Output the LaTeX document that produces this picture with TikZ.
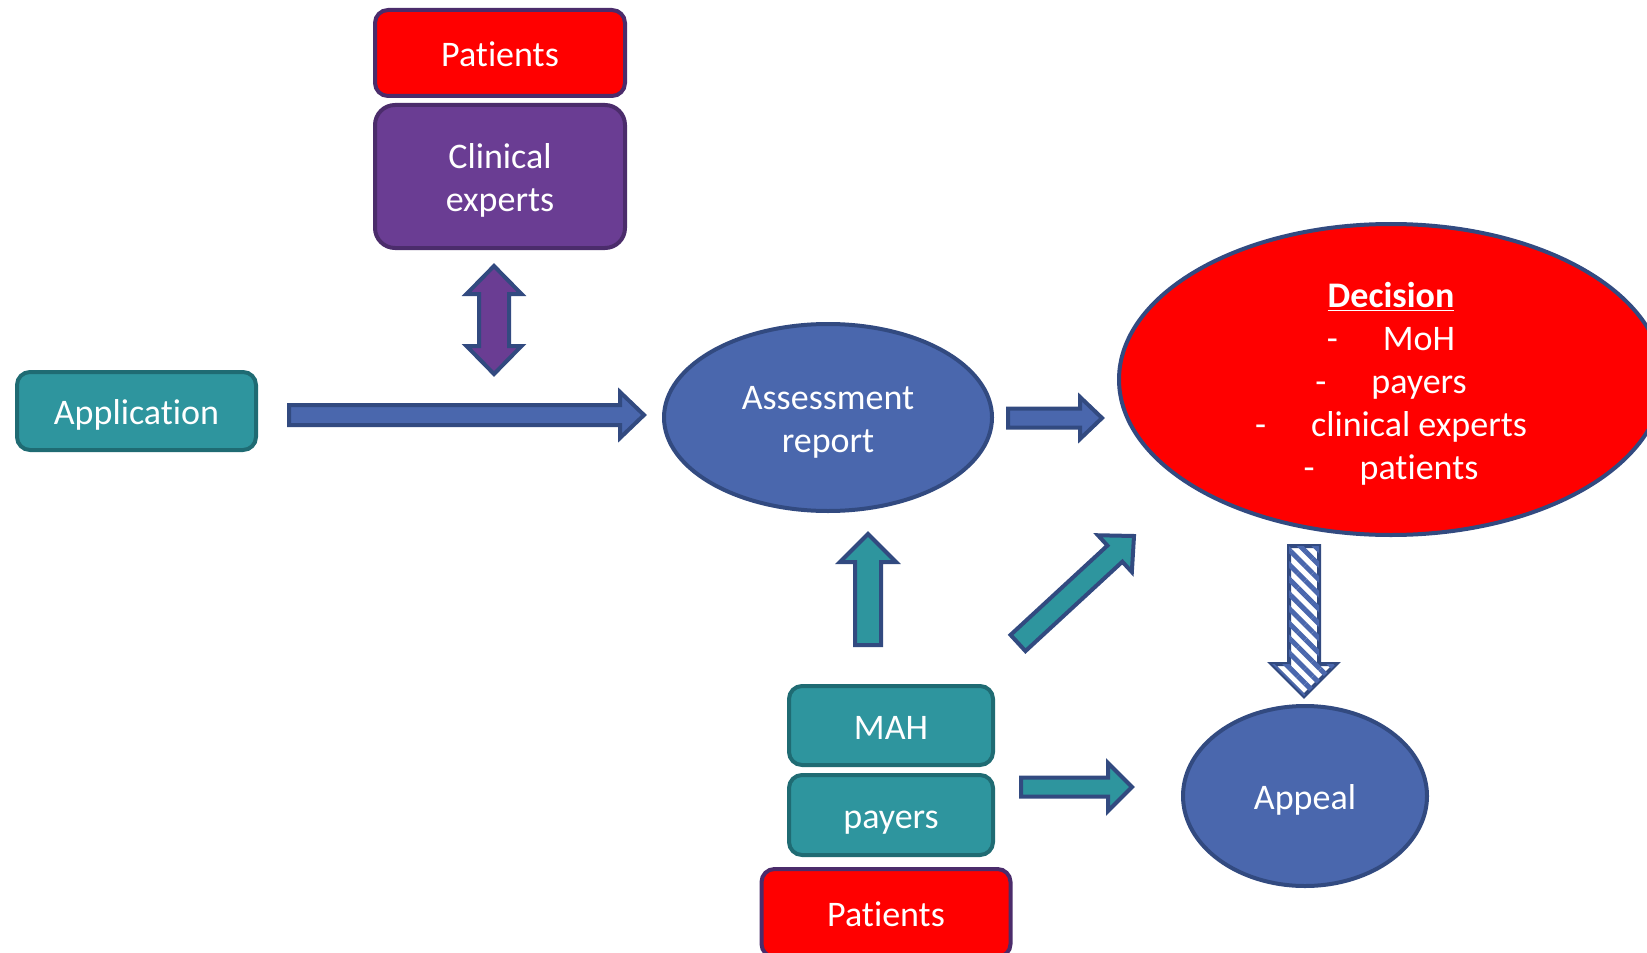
\documentclass[tikz,border=0pt]{standalone}
\usepackage{fontspec}
\setmainfont{Carlito}[Ligatures={NoCommon}]
\usetikzlibrary{shapes.geometric,calc,patterns.meta}
\definecolor{teal1}{RGB}{46,149,158}
\definecolor{tealb}{RGB}{31,107,115}
\definecolor{purp}{RGB}{106,61,147}
\definecolor{purpb}{RGB}{75,44,107}
\definecolor{blu}{RGB}{74,103,173}
\definecolor{blub}{RGB}{50,74,128}
\definecolor{redf}{RGB}{255,0,0}

\newcommand\tstrut{\rule{0pt}{18pt}}
\newcommand\bstrut{\rule[-4.1pt]{0pt}{4.1pt}}

% #1 style, #2 from, #3 to, #4 half shaft, #5 half head, #6 head length
\newcommand\blockarrow[6]{%
  \coordinate (ba-c) at ($(#3)!#6!(#2)$);
  \path[#1] ($(#2)!#4!90:(#3)$) -- ($(ba-c)!#4!-90:(#2)$) -- ($(ba-c)!#5!-90:(#2)$)
    -- (#3) -- ($(ba-c)!#5!90:(#2)$) -- ($(ba-c)!#4!90:(#2)$)
    -- ($(#2)!#4!-90:(#3)$) -- cycle;
}
\newcommand\dblockarrow[6]{%
  \coordinate (ba-c) at ($(#2)!#6!(#3)$);
  \coordinate (ba-d) at ($(#3)!#6!(#2)$);
  \path[#1] (#2) -- ($(ba-c)!#5!90:(#3)$) -- ($(ba-c)!#4!90:(#3)$)
    -- ($(ba-d)!#4!-90:(#2)$) -- ($(ba-d)!#5!-90:(#2)$) -- (#3)
    -- ($(ba-d)!#5!90:(#2)$) -- ($(ba-d)!#4!90:(#2)$)
    -- ($(ba-c)!#4!-90:(#3)$) -- ($(ba-c)!#5!-90:(#3)$) -- cycle;
}

\tikzset{
  txt/.style={text=white, font=\fontsize{18}{21.5}\selectfont, align=center, inner sep=0pt},
  box/.style={txt, rectangle, rounded corners=6.5pt, line width=2pt},
  tealbox/.style={box, fill=teal1, draw=tealb},
  redbox/.style={box, fill=redf, draw=purpb},
  purpbox/.style={box, fill=purp, draw=purpb, rounded corners=10pt},
  ell/.style={txt, ellipse, line width=2pt, draw=blub},
  arr/.style={draw=blub, line width=2pt, line join=miter},
}

\begin{document}
\begin{tikzpicture}[x=0.5pt, y=-0.5pt]
\useasboundingbox (0,0) rectangle (1647,952);

% nodes
\node[redbox, minimum width=125pt, minimum height=43pt] (pat1) at (500,53) {\tstrut Patients\bstrut};
\node[purpbox, minimum width=125pt, minimum height=71.5pt] (clin) at (500,176.5) {\tstrut Clinical\\experts\bstrut};
\node[tealbox, minimum width=119.5pt, minimum height=39pt] (app) at (136.5,411) {\tstrut Application\bstrut};
\node[ell, fill=blu, minimum width=164pt, minimum height=93.5pt] (ar) at (828,417.5) {\tstrut Assessment\\report\bstrut};
\node[ell, fill=redf, minimum width=272pt, minimum height=155.5pt] (dec) at (1391,379.5)
  {\tstrut\underline{\textbf{Decision}}\\
   -\hspace{1.25em}MoH\\
   -\hspace{1.25em}payers\\
   -\hspace{1.25em}clinical experts\\
   -\hspace{1.25em}patients\bstrut};
\node[ell, fill=blu, minimum width=122pt, minimum height=90pt] (appeal) at (1305,796) {\tstrut Appeal\bstrut};
\node[tealbox, minimum width=102pt, minimum height=39.5pt] (mah) at (891,725.5) {\tstrut MAH\bstrut};
\node[tealbox, minimum width=102pt, minimum height=40pt] (pay) at (891,815) {\tstrut payers\bstrut};
\node[redbox, minimum width=124.5pt, minimum height=44pt] (pat2) at (886,913) {\tstrut Patients\bstrut};

% arrow end points
\coordinate (a1s) at (289,415);
\coordinate (a1e) at (644,415);
\coordinate (a2s) at (494,266);
\coordinate (a2e) at (494,374);
\coordinate (a3s) at (1008,418);
\coordinate (a3e) at (1102,418);
\coordinate (a4s) at (868,645);
\coordinate (a4e) at (868,534);
\coordinate (a5s) at (1018,643);
\coordinate (a5e) at (1134,536);
\coordinate (a6s) at (1304,546);
\coordinate (a6e) at (1304,696);
\coordinate (a7s) at (1021,787);
\coordinate (a7e) at (1132,787);

% arrows
\blockarrow{arr, fill=blu}{a1s}{a1e}{5pt}{11.5pt}{12pt}
\dblockarrow{arr, fill=purp}{a2s}{a2e}{7.5pt}{13.75pt}{14pt}
\blockarrow{arr, fill=blu}{a3s}{a3e}{4.75pt}{10.5pt}{11pt}
\blockarrow{arr, fill=teal1}{a4s}{a4e}{6.5pt}{14pt}{14pt}
\blockarrow{arr, fill=teal1}{a5s}{a5e}{5.5pt}{12.5pt}{13pt}
\blockarrow{arr, fill=white, postaction={pattern={Lines[angle=-45,distance=5.2pt,line width=2.5pt]}, pattern color=blu}}{a6s}{a6e}{7.5pt}{16pt}{16pt}
\blockarrow{arr, fill=teal1}{a7s}{a7e}{4.75pt}{12pt}{12pt}
\end{tikzpicture}
\end{document}
